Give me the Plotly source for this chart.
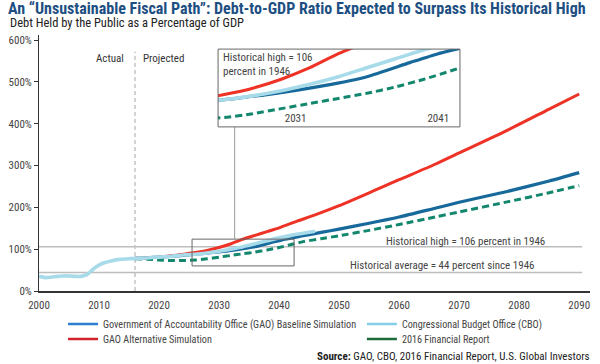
import plotly.graph_objects as go

FONT = "Liberation Sans Narrow, Arial Narrow, Roboto Condensed, Liberation Sans, sans-serif"

# ---------------- data ----------------
cbo_years = [2000, 2001, 2002, 2003, 2004, 2005, 2006, 2007, 2008, 2009, 2010, 2011, 2012,
             2013, 2014, 2015, 2016, 2018, 2020, 2022, 2024, 2026, 2028, 2030, 2032, 2034,
             2036, 2038, 2040, 2042, 2044, 2046]
cbo_values = [35, 32, 33, 35, 36, 36, 35, 35, 39, 52, 62, 68, 72,
              75, 76, 77, 78, 79, 81, 83, 86, 88, 91, 95, 100, 106,
              113, 120, 127, 133, 138, 143]

gao_base_years = [2016, 2020, 2024, 2026, 2029, 2033, 2036, 2039, 2041, 2044, 2047, 2050,
                  2055, 2060, 2066, 2070, 2078, 2085, 2090]
gao_base_values = [78, 81, 85, 88, 92, 99, 106, 117, 124, 132, 140, 148,
                   162, 177, 198, 212, 238, 263, 283]

gao_alt_years = [2016, 2018, 2020, 2022, 2024, 2026, 2028, 2030, 2032, 2034, 2036, 2038,
                 2040, 2043, 2046, 2050, 2056, 2060, 2066, 2070, 2078, 2085, 2090]
gao_alt_values = [78, 79, 81, 84, 88, 92, 97, 104, 113, 124, 133, 142,
                  151, 167, 182, 204, 241, 266, 303, 330, 384, 435, 471]

fr_years = [2016, 2018, 2020, 2022, 2024, 2026, 2028, 2030, 2032, 2034, 2036, 2038, 2040,
            2042, 2044, 2047, 2050, 2055, 2060, 2066, 2070, 2078, 2085, 2090]
fr_values = [77, 76, 74, 73, 73, 74, 77, 81, 85, 89, 93, 98, 104,
             111, 118, 125, 132, 145, 159, 177, 189, 213, 235, 252]

hist_high = 106
hist_avg = 44
projection_start = 2016
y_ticks = [0, 100, 200, 300, 400, 500, 600]
y_tick_labels = [f"{v}%" for v in y_ticks]
x_ticks = [2000, 2010, 2020, 2030, 2040, 2050, 2060, 2070, 2080, 2090]
inset_ticks = [2031, 2041]
zoom_x = [2025.5, 2042.5]
zoom_y = [60, 124]

legend_names = ["Government of Accountability Office (GAO) Baseline Simulation",
                "GAO Alternative Simulation",
                "Congressional Budget Office (CBO)",
                "2016 Financial Report"]

# ---------------- styles ----------------
C_BASE = "#16699a"
C_ALT = "#ee3226"
C_CBO = "#a8dbea"
C_FR = "#13876d"
L_BASE = "#2f7dcf"
L_ALT = "#d2232c"
L_CBO = "#86cfea"
L_FR = "#1d6b3a"
DASH = "7px,4px"

fig = go.Figure()

series = [
    (gao_base_years, gao_base_values, C_BASE, 3.2, "solid"),
    (gao_alt_years, gao_alt_values, C_ALT, 3, "solid"),
    (fr_years, fr_values, C_FR, 3, DASH),
    (cbo_years, cbo_values, C_CBO, 3.6, "solid"),
]

for xa, ya in [("x", "y"), ("x2", "y2")]:
    for xs, ys, col, w, dash in series:
        fig.add_trace(go.Scatter(
            x=xs, y=ys, mode="lines", xaxis=xa, yaxis=ya,
            line=dict(color=col, width=w, dash=dash, shape="spline", smoothing=0.6),
            showlegend=False, hoverinfo="skip"))

# legend-only entries, one legend per entry for exact placement
leg = [(legend_names[0], L_BASE, "legend"), (legend_names[1], L_ALT, "legend3"),
       (legend_names[2], L_CBO, "legend2"), (legend_names[3], L_FR, "legend4")]
for name, col, lg in leg:
    fig.add_trace(go.Scatter(x=[None], y=[None], mode="lines", name=name,
                             line=dict(color=col, width=2.5), legend=lg))

shapes = [
    dict(type="line", xref="x", yref="y", x0=2000, x1=2090.5, y0=hist_high, y1=hist_high,
         line=dict(color="#bdbdbd", width=1.5), layer="below"),
    dict(type="line", xref="x", yref="y", x0=2000, x1=2090.5, y0=hist_avg, y1=hist_avg,
         line=dict(color="#bdbdbd", width=1.5), layer="below"),
    dict(type="line", xref="x", yref="y", x0=projection_start, x1=projection_start, y0=0, y1=572,
         line=dict(color="#c4c4c4", width=1.5, dash="4px,3px"), layer="below"),
    dict(type="rect", xref="x", yref="y", x0=zoom_x[0], x1=zoom_x[1], y0=zoom_y[0], y1=zoom_y[1],
         line=dict(color="#666666", width=1)),
    dict(type="line", xref="x", yref="y", x0=2032.6, x1=2032.6, y0=zoom_y[1], y1=392,
         line=dict(color="#999999", width=1)),
    dict(type="line", xref="x2 domain", yref="y2", x0=0, x1=1, y0=hist_high, y1=hist_high,
         line=dict(color="#aaaaaa", width=1), layer="below"),
    dict(type="rect", xref="x2 domain", yref="y2 domain", x0=0, x1=1, y0=0, y1=1,
         line=dict(color="#666666", width=1)),
]

TXT = "#444444"
annotations = [
    dict(text="Debt Held by the Public as a Percentage of GDP", xref="paper", yref="paper",
         x=-0.0563, y=1.0488, xanchor="left", yanchor="middle", showarrow=False,
         font=dict(family=FONT, size=12.5, color="#222222")),
    dict(text="Actual", xref="x", yref="y", x=projection_start, y=557, xanchor="right",
         yanchor="middle", xshift=-9, showarrow=False, font=dict(family=FONT, size=11, color="#333333")),
    dict(text="Projected", xref="x", yref="y", x=projection_start, y=557, xanchor="left",
         yanchor="middle", xshift=6, showarrow=False, font=dict(family=FONT, size=11, color="#333333")),
    dict(text="Historical high = 106 percent in 1946", xref="x", yref="y", x=2071, y=hist_high,
         xanchor="center", yanchor="bottom", yshift=-3, showarrow=False,
         font=dict(family=FONT, size=11, color=TXT)),
    dict(text="Historical average = 44 percent since 1946", xref="x", yref="y", x=2067.2, y=hist_avg,
         xanchor="center", yanchor="bottom", yshift=-1, showarrow=False,
         font=dict(family=FONT, size=11, color=TXT)),
    dict(text="Historical high = 106<br>percent in 1946", xref="x2 domain", yref="y2 domain",
         x=0.012, y=0.995, xanchor="left", yanchor="top", align="left", showarrow=False,
         font=dict(family=FONT, size=11, color=TXT)),
    dict(text="<b>Source:</b> GAO, CBO, 2016 Financial Report, U.S. Global Investors",
         xref="paper", yref="paper", x=1.0036, y=-0.254, xanchor="right", yanchor="middle",
         showarrow=False, font=dict(family=FONT, size=11, color="#222222")),
]

legend_common = dict(xanchor="left", yanchor="top", orientation="v", itemwidth=30,
                     bgcolor="rgba(0,0,0,0)", font=dict(family=FONT, size=10.2, color=TXT))

fig.update_layout(
    width=600, height=364,
    margin=dict(l=39, r=10, t=35, b=73, autoexpand=False),
    paper_bgcolor="white", plot_bgcolor="white",
    font=dict(family=FONT, size=11, color=TXT),
    title=dict(text="<b>An “Unsustainable Fiscal Path”: Debt-to-GDP Ratio Expected to Surpass Its Historical High</b>",
               xref="container", yref="container", x=8 / 600, y=1 - 8.5 / 364,
               xanchor="left", yanchor="middle",
               font=dict(family=FONT, size=16, color="#1e4f82")),
    xaxis=dict(range=[2000, 2091.8], tickvals=x_ticks, showgrid=False, zeroline=False,
               showline=True, linecolor="#333333", linewidth=1.5, ticks="outside", ticklen=3,
               tickcolor="rgba(0,0,0,0)", tickfont=dict(family=FONT, size=11, color=TXT)),
    yaxis=dict(range=[0, 612], tickvals=y_ticks, ticktext=y_tick_labels, showgrid=False,
               zeroline=False, showline=True, linecolor="#333333", linewidth=1, ticks="outside",
               ticklen=4, tickcolor="#333333", tickfont=dict(family=FONT, size=11, color=TXT)),
    xaxis2=dict(domain=[0.325, 0.764], anchor="y2", range=[2025.57, 2042.52], tickvals=inset_ticks,
                ticklabelposition="inside", showgrid=False, zeroline=False, showline=False,
                tickfont=dict(family=FONT, size=11, color=TXT)),
    yaxis2=dict(domain=[0.641, 0.945], anchor="x2", range=[66.7, 127.6], showticklabels=False,
                showgrid=False, zeroline=False, showline=False),
    legend=dict(x=0.0436, y=-0.0726, **legend_common),
    legend3=dict(x=0.0436, y=-0.1308, **legend_common),
    legend2=dict(x=0.586, y=-0.0726, **legend_common),
    legend4=dict(x=0.586, y=-0.1308, **legend_common),
    shapes=shapes,
    annotations=annotations,
)

fig.write_html("out.html", config={"displayModeBar": False},
               post_script="document.body.style.margin='0';")
